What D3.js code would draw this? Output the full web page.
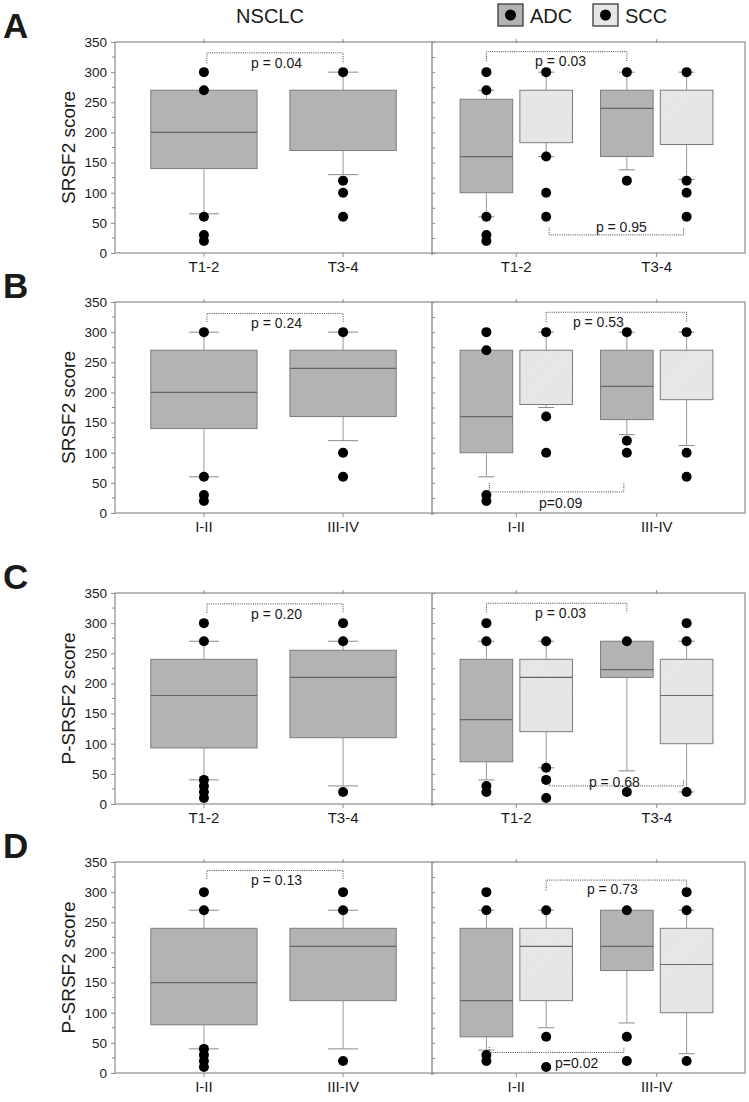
<!DOCTYPE html>
<html>
<head>
<meta charset="utf-8">
<script src="https://cdn.jsdelivr.net/npm/d3@7"></script>
<style>
  body { margin: 0; background: #fff; }
  text { font-family: "Liberation Sans", Arial, sans-serif; fill: #1a1a1a; }
</style>
</head>
<body>
<div id="chart"></div>
<script>
// panel labels, axis titles and categories
var panelLetters = ["A", "B", "C", "D"];
var yTitles = ["SRSF2 score", "SRSF2 score", "P-SRSF2 score", "P-SRSF2 score"];
var groupLabels = [["T1-2", "T3-4"], ["I-II", "III-IV"], ["T1-2", "T3-4"], ["I-II", "III-IV"]];
var subtypes = ["ADC", "SCC"];
var yTicks = [0, 50, 100, 150, 200, 250, 300, 350];

// box stats per panel and category: [whisker low, q1, median, q3, whisker high]
var nsclcBoxes = [
    [[65, 140, 200, 270, 270], [130, 170, 270, 270, 300]],
    [[60, 140, 200, 270, 300], [120, 160, 240, 270, 300]],
    [[40, 93, 180, 240, 270], [30, 110, 210, 255, 270]],
    [[40, 80, 150, 240, 270], [40, 120, 210, 240, 270]]
];
var nsclcDots = [
    [[300, 270, 60, 30, 20], [300, 120, 100, 60]],
    [[300, 60, 30, 20], [300, 100, 60]],
    [[300, 270, 40, 30, 20, 10], [300, 270, 20]],
    [[300, 270, 40, 30, 20, 10], [300, 270, 20]]
];
var adcBoxes = [
    [[60, 100, 160, 255, 270], [138, 160, 240, 270, 300]],
    [[60, 100, 160, 270, 270], [130, 155, 210, 270, 300]],
    [[40, 70, 140, 240, 270], [55, 210, 223, 270, 270]],
    [[38, 60, 120, 240, 270], [83, 170, 210, 270, 270]]
];
var adcDots = [
    [[300, 270, 60, 30, 20], [300, 120]],
    [[300, 270, 30, 20], [300, 120, 100]],
    [[300, 270, 30, 20], [270, 20]],
    [[300, 270, 30, 20], [270, 60, 20]]
];
var sccBoxes = [
    [[160, 183, 270, 270, 300], [122, 180, 270, 270, 300]],
    [[175, 180, 270, 270, 300], [112, 188, 270, 270, 300]],
    [[60, 120, 210, 240, 270], [20, 100, 180, 240, 270]],
    [[75, 120, 210, 240, 270], [32, 100, 180, 240, 270]]
];
var sccDots = [
    [[300, 160, 100, 60], [300, 120, 100, 60]],
    [[300, 160, 100], [300, 100, 60]],
    [[270, 60, 40, 10], [300, 270, 20]],
    [[270, 60, 10], [300, 270, 20]]
];

// p values: NSCLC bracket (level, drop-to), and two subtype brackets per panel
var nsclcP = ["p = 0.04", "p = 0.24", "p = 0.20", "p = 0.13"];
var nsclcPLevel = [332, 331, 332, 336];
var nsclcPEnd = [315, 317, 317, 322];
var topP = ["p = 0.03", "p = 0.53", "p = 0.03", "p = 0.73"];
var topPType = ["ADC", "SCC", "ADC", "SCC"];
var topPLevel = [334, 333, 333, 320];
var topPEnd = [318, 317, 318, 303];
var bottomP = ["p = 0.95", "p=0.09", "p = 0.68", "p=0.02"];
var bottomPType = ["SCC", "ADC", "SCC", "ADC"];
var bottomPLevel = [30, 35, 30, 34];
var bottomPEnd = [42, 50, 40, 43];

var width = 749, height = 1102;
var panelTop = [42, 302, 593, 862];
var panelH = 211;
var leftX0 = 115, midX = 432, rightX1 = 745;

// label nudges (px) for the subtype p-values: [dx, dy from bracket line]
var topPNudge = [[4, 14], [-18, 15], [4, 15], [-4, 14]];
var bottomPNudge = [[5, -3], [4, 16], [-2, 1], [20, 15]];

var svg = d3.select("#chart")
    .append("svg")
    .attr("width", width)
    .attr("height", height);

var defs = svg.append("defs");
var pat = defs.append("pattern")
    .attr("id", "hatch")
    .attr("patternUnits", "userSpaceOnUse")
    .attr("width", 3).attr("height", 3)
    .attr("patternTransform", "rotate(45)");
pat.append("rect").attr("width", 3).attr("height", 3).attr("fill", "#e8e8e8");
pat.append("line").attr("x1", 0).attr("y1", 0).attr("x2", 0).attr("y2", 3)
    .attr("stroke", "#dcdcdc").attr("stroke-width", 1);

var fillOf = { NSCLC: "#b3b3b3", ADC: "#b3b3b3", SCC: "url(#hatch)" };
var frameColor = "#8c8c8c";

// header
svg.append("text").attr("x", 270).attr("y", 23)
    .attr("text-anchor", "middle").style("font-size", "20px").text("NSCLC");

var legend = svg.append("g").attr("class", "legend");
[["ADC", 498, "#b3b3b3"], ["SCC", 593, "#e6e6e6"]].forEach(function (d) {
    legend.append("rect").attr("x", d[1]).attr("y", 4).attr("width", 25).attr("height", 22)
        .attr("fill", d[2]).attr("stroke", "#3a3a3a").attr("stroke-width", 1.3);
    legend.append("circle").attr("cx", d[1] + 12.5).attr("cy", 15).attr("r", 5.5).attr("fill", "#000");
    legend.append("text").attr("x", d[1] + 32).attr("y", 23).style("font-size", "20px").text(d[0]);
});

function drawBox(g, cx, w, s, y, fill, capHalf) {
    var wl = s[0], q1 = s[1], med = s[2], q3 = s[3], wh = s[4];
    // whiskers
    g.append("line").attr("x1", cx).attr("x2", cx).attr("y1", y(wl)).attr("y2", y(q1))
        .attr("stroke", "#9a9a9a");
    g.append("line").attr("x1", cx).attr("x2", cx).attr("y1", y(q3)).attr("y2", y(wh))
        .attr("stroke", "#9a9a9a");
    if (wl < q1) g.append("line").attr("x1", cx - capHalf).attr("x2", cx + capHalf)
        .attr("y1", y(wl)).attr("y2", y(wl)).attr("stroke", "#8a8a8a");
    if (wh > q3) g.append("line").attr("x1", cx - capHalf).attr("x2", cx + capHalf)
        .attr("y1", y(wh)).attr("y2", y(wh)).attr("stroke", "#8a8a8a");
    g.append("rect").attr("x", cx - w / 2).attr("y", y(q3))
        .attr("width", w).attr("height", y(q1) - y(q3))
        .attr("fill", fill).attr("stroke", "#7c7c7c").attr("stroke-width", 1);
    if (med < q3) g.append("line").attr("x1", cx - w / 2).attr("x2", cx + w / 2)
        .attr("y1", y(med)).attr("y2", y(med)).attr("stroke", "#666").attr("stroke-width", 1.2);
}

function drawDots(g, cx, vals, y) {
    g.selectAll(null).data(vals).enter().append("circle")
        .attr("cx", cx).attr("cy", function (d) { return y(d); })
        .attr("r", 5).attr("fill", "#000");
}

function bracket(g, x1, x2, yl, ye) {
    g.append("path")
        .attr("d", "M" + x1 + "," + ye + "V" + yl + "H" + x2 + "V" + ye)
        .attr("fill", "none").attr("stroke", "#444").attr("stroke-width", 1)
        .attr("stroke-dasharray", "1,1.2");
}

panelLetters.forEach(function (letter, i) {
    var top = panelTop[i], bottom = top + panelH;
    var y = d3.scaleLinear().domain([0, 350]).range([bottom, top]);
    var cats = groupLabels[i];
    var g = svg.append("g").attr("class", "panel");

    var xl = d3.scaleBand().domain(cats).range([leftX0, midX])
        .paddingInner(0.236).paddingOuter(0.257);
    var xr = d3.scaleBand().domain(cats).range([midX, rightX1 - 4])
        .paddingInner(0.2).paddingOuter(0.2);
    var xs = d3.scaleBand().domain(subtypes).range([0, xr.bandwidth()]).paddingInner(0.12);

    // panel letter + y title
    g.append("text").attr("x", 3).attr("y", top - 4)
        .style("font-size", "35px").style("font-weight", "bold").text(letter);
    g.append("text")
        .attr("transform", "translate(" + 75 + "," + (top + panelH / 2) + ") rotate(-90)")
        .attr("text-anchor", "middle").style("font-size", "19px").text(yTitles[i]);

    // frames
    g.append("rect").attr("x", leftX0).attr("y", top).attr("width", rightX1 - leftX0)
        .attr("height", panelH).attr("fill", "none").attr("stroke", frameColor).attr("stroke-width", 1.2);
    g.append("line").attr("x1", midX).attr("x2", midX).attr("y1", top).attr("y2", bottom + 2)
        .attr("stroke", frameColor).attr("stroke-width", 1.4);

    // left y axis, outside ticks every 25
    var axL = d3.axisLeft(y).tickValues(yTicks).tickSize(4).tickPadding(4);
    var gL = g.append("g").attr("transform", "translate(" + leftX0 + ",0)").call(axL);
    gL.selectAll(".minor").data(d3.range(25, 350, 50)).enter().append("line")
        .attr("x1", -3).attr("x2", 0).attr("y1", function (d) { return y(d); })
        .attr("y2", function (d) { return y(d); }).attr("stroke", frameColor);
    gL.select(".domain").remove();
    gL.selectAll(".tick line").attr("stroke", frameColor);
    gL.selectAll(".tick text").style("font-size", "13.5px").attr("fill", "#1a1a1a");

    // right panel y axis: inside ticks, no labels
    var axR = d3.axisRight(y).tickValues(d3.range(0, 351, 25)).tickSize(3).tickFormat("");
    var gR = g.append("g").attr("transform", "translate(" + midX + ",0)").call(axR);
    gR.select(".domain").remove();
    gR.selectAll(".tick line").attr("stroke", frameColor);

    // x axes (labels below, small ticks top and bottom)
    var centersL = cats.map(function (c) { return xl(c) + xl.bandwidth() / 2; });
    var centersR = cats.map(function (c) { return xr(c) + xr.bandwidth() / 2; });
    centersL.concat(centersR).forEach(function (cx, k) {
        g.append("line").attr("x1", cx).attr("x2", cx).attr("y1", bottom).attr("y2", bottom + 4)
            .attr("stroke", frameColor);
        g.append("line").attr("x1", cx).attr("x2", cx).attr("y1", top - 3).attr("y2", top + 1)
            .attr("stroke", frameColor);
        g.append("text").attr("x", cx).attr("y", bottom + 19).attr("text-anchor", "middle")
            .style("font-size", "15px").text(cats[k % 2]);
    });

    // NSCLC boxes
    cats.forEach(function (c, j) {
        var cx = centersL[j];
        drawBox(g, cx, xl.bandwidth(), nsclcBoxes[i][j], y, fillOf.NSCLC, 15);
        drawDots(g, cx, nsclcDots[i][j], y);
    });

    // ADC / SCC boxes
    var subCx = function (c, t) { return xr(c) + xs(t) + xs.bandwidth() / 2; };
    cats.forEach(function (c, j) {
        var ca = subCx(c, "ADC"), cs = subCx(c, "SCC");
        drawBox(g, ca, xs.bandwidth(), adcBoxes[i][j], y, fillOf.ADC, 8);
        drawBox(g, cs, xs.bandwidth(), sccBoxes[i][j], y, fillOf.SCC, 8);
        drawDots(g, ca, adcDots[i][j], y);
        drawDots(g, cs, sccDots[i][j], y);
    });

    // p-value brackets
    bracket(g, centersL[0] + 3, centersL[1], y(nsclcPLevel[i]), y(nsclcPEnd[i]));
    g.append("text").attr("x", (centersL[0] + centersL[1]) / 2 + 3).attr("y", y(nsclcPLevel[i]) + 15)
        .attr("text-anchor", "middle").style("font-size", "14px").text(nsclcP[i]);

    var t1 = topPType[i];
    var a1 = subCx(cats[0], t1), b1 = subCx(cats[1], t1);
    bracket(g, a1, b1, y(topPLevel[i]), y(topPEnd[i]));
    g.append("text").attr("x", (a1 + b1) / 2 + topPNudge[i][0]).attr("y", y(topPLevel[i]) + topPNudge[i][1])
        .attr("text-anchor", "middle").style("font-size", "14px").text(topP[i]);

    var t2 = bottomPType[i];
    var a2 = subCx(cats[0], t2) + 3, b2 = subCx(cats[1], t2) - 3;
    bracket(g, a2, b2, y(bottomPLevel[i]), y(bottomPEnd[i]));
    g.append("text").attr("x", (a2 + b2) / 2 + bottomPNudge[i][0]).attr("y", y(bottomPLevel[i]) + bottomPNudge[i][1])
        .attr("text-anchor", "middle").style("font-size", "14px").text(bottomP[i]);
});
</script>
</body>
</html>
